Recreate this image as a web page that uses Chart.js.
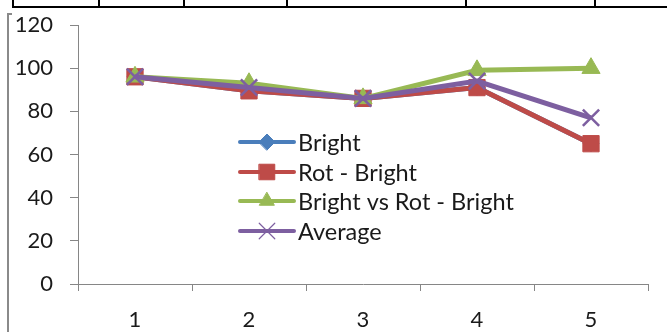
<!DOCTYPE html>
<html>
<head>
<meta charset="utf-8">
<script src="https://cdn.jsdelivr.net/npm/chart.js@4/dist/chart.umd.min.js"></script>
<style>
  html, body { margin: 0; padding: 0; background: #fff; }
  #wrap { width: 667px; height: 332px; position: relative; }
</style>
</head>
<body>
<div id="wrap"><canvas id="c" width="667" height="332"></canvas></div>
<script>
// Categories and series
const categories = ['1', '2', '3', '4', '5'];
const bright = [96, 89.5, 86, 91, 65];
const rotBright = [96, 89.5, 86, 91, 65];
const brightVsRot = [96, 93, 86, 99, 100];
const average = [96, 91, 86, 94, 77];
const yTicks = [0, 20, 40, 60, 80, 100, 120];

const FONT = 'Lato, "Open Sans", sans-serif';
const AXIS_GRAY = '#868686';

// Page frame: table rule across the top and a border on the left
const framePlugin = {
  id: 'frame',
  beforeDraw(chart) {
    const ctx = chart.ctx;
    ctx.save();
    ctx.fillStyle = '#fff';
    ctx.fillRect(0, 0, chart.width, chart.height);
    ctx.strokeStyle = '#000';
    ctx.lineWidth = 2;
    ctx.beginPath();
    ctx.moveTo(12, 7); ctx.lineTo(667, 7);
    [13, 99, 184, 287, 466, 595].forEach(x => { ctx.moveTo(x, 0); ctx.lineTo(x, 7); });
    ctx.stroke();
    ctx.strokeStyle = '#8a8a8a';
    ctx.lineWidth = 2;
    ctx.beginPath();
    ctx.moveTo(8, 332); ctx.lineTo(8, 14); ctx.lineTo(12, 14);
    ctx.stroke();
    ctx.restore();
  }
};

// Legend drawn inside the plot area
const innerLegend = {
  id: 'innerLegend',
  afterDatasetsDraw(chart) {
    const ctx = chart.ctx;
    const x0 = 240, x1 = 294, tx = 298;
    const rows = [142, 172, 201, 231];
    ctx.save();
    chart.data.datasets.forEach((ds, i) => {
      const y = rows[i];
      ctx.strokeStyle = ds.borderColor;
      ctx.lineWidth = 4;
      ctx.lineCap = 'round';
      ctx.beginPath();
      ctx.moveTo(x0, y); ctx.lineTo(x1, y);
      ctx.stroke();
      ctx.fillStyle = ds.pointBackgroundColor;
      ctx.strokeStyle = ds.pointBorderColor;
      ctx.lineWidth = ds.legendBorder;
      Chart.helpers.drawPoint(ctx, {
        pointStyle: ds.pointStyle,
        radius: ds.legendRadius,
        borderWidth: ds.legendBorder,
        rotation: 0
      }, (x0 + x1) / 2, y);
      ctx.fillStyle = '#1a1a1a';
      ctx.font = '23.5px ' + FONT;
      ctx.textAlign = 'left';
      ctx.textBaseline = 'middle';
      ctx.fillText(ds.label, tx, y + 1);
    });
    ctx.restore();
  }
};

const blue = '#4A7EBB', red = '#BE4B48', green = '#98B954', purple = '#7D5FA0';

new Chart(document.getElementById('c'), {
  type: 'line',
  data: {
    labels: categories,
    datasets: [
      { label: 'Bright', data: bright, borderColor: blue, backgroundColor: blue,
        pointBackgroundColor: blue, pointBorderColor: blue, pointBorderWidth: 1, legendBorder: 1,
        pointStyle: 'rectRot', pointRadius: 8, legendRadius: 8, borderWidth: 5, order: 3 },
      { label: 'Rot - Bright', data: rotBright, borderColor: red, backgroundColor: red,
        pointBackgroundColor: red, pointBorderColor: red, pointBorderWidth: 1, legendBorder: 1,
        pointStyle: 'rect', pointRadius: 11.5, legendRadius: 11, borderWidth: 5, order: 2 },
      { label: 'Bright vs Rot - Bright', data: brightVsRot, borderColor: green, backgroundColor: green,
        pointBackgroundColor: green, pointBorderColor: green, pointBorderWidth: 1, legendBorder: 1,
        pointStyle: 'triangle', pointRadius: 10.5, legendRadius: 8.5, borderWidth: 5, order: 1 },
      { label: 'Average', data: average, borderColor: purple, backgroundColor: purple,
        pointBackgroundColor: purple, pointBorderColor: purple, pointBorderWidth: 2.5, legendBorder: 1.2,
        pointStyle: 'crossRot', pointRadius: 11.5, legendRadius: 11, borderWidth: 5, order: 0 }
    ]
  },
  options: {
    responsive: false,
    animation: false,
    devicePixelRatio: 1,
    layout: { padding: { top: 25, right: 19, left: 0, bottom: 0 } },
    elements: { line: { tension: 0 } },
    plugins: { legend: { display: false }, tooltip: { enabled: false } },
    scales: {
      x: {
        offset: true,
        grid: { display: true, drawOnChartArea: false, offset: true, tickLength: 7, color: AXIS_GRAY, lineWidth: 1 },
        border: { display: true, color: AXIS_GRAY, width: 1 },
        ticks: { color: '#1a1a1a', font: { family: FONT, size: 22 }, padding: 16, maxRotation: 0 },
        afterFit(scale) {
          scale.height = 48;
          scale.paddingLeft = 0; scale.paddingRight = 0;
        }
      },
      y: {
        min: 0, max: 120,
        afterBuildTicks(scale) { scale.ticks = yTicks.map(v => ({ value: v })); },
        grid: { display: true, drawOnChartArea: false, tickLength: 8, color: AXIS_GRAY, lineWidth: 1 },
        border: { display: true, color: AXIS_GRAY, width: 1 },
        ticks: { color: '#1a1a1a', font: { family: FONT, size: 22 }, padding: 17 },
        afterFit(scale) {
          scale.width = 78;
          scale.paddingTop = 0; scale.paddingBottom = 0;
        }
      }
    }
  },
  plugins: [framePlugin, innerLegend]
});
</script>
</body>
</html>
